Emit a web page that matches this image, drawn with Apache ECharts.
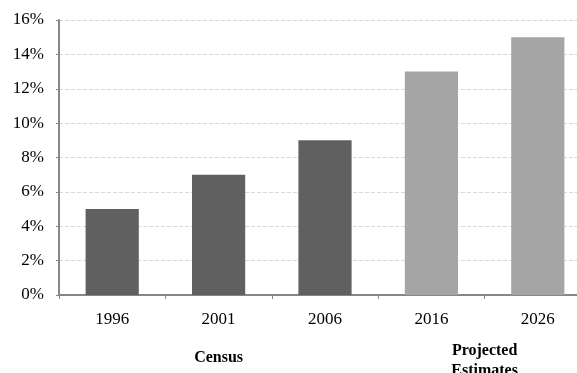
<!DOCTYPE html>
<html>
<head>
<meta charset="utf-8">
<script src="https://cdn.jsdelivr.net/npm/echarts@6/dist/echarts.min.js"></script>
<style>
  html, body { margin: 0; padding: 0; background: #ffffff; overflow: hidden; }
  #frame { width: 577px; height: 373px; overflow: hidden; }
  /* the plot runs a little past the right edge of the frame */
  #chart { width: 591px; height: 373px; }
</style>
</head>
<body>
<div id="frame"><div id="chart"></div></div>
<script>
// Share by year: census counts and projected estimates
const years = ['1996', '2001', '2006', '2016', '2026'];
const shares = [5, 7, 9, 13, 15];
const projected = [false, false, false, true, true];
const yTicks = [0, 2, 4, 6, 8, 10, 12, 14, 16];

// Group captions under the year labels: [text, first index, last index]
const groups = [
  ['Census', 0, 2],
  ['Projected\nEstimates', 3, 4]
];

const censusColor = '#606060';
const projectedColor = '#a5a5a5';
const serif = '"Liberation Serif", "Times New Roman", serif';

const chart = echarts.init(document.getElementById('chart'), null, { renderer: 'canvas' });

const option = {
  animation: false,
  backgroundColor: '#ffffff',
  grid: { left: 59, right: 0, top: 20, bottom: 78, containLabel: false },
  xAxis: {
    type: 'category',
    data: years,
    boundaryGap: true,
    axisLine: { lineStyle: { color: '#868686', width: 2 } },
    axisTick: { show: true, length: 4, lineStyle: { color: '#868686', width: 1 } },
    axisLabel: { color: '#000000', fontFamily: serif, fontSize: 17, margin: 16 },
    splitLine: { show: false }
  },
  yAxis: {
    type: 'value',
    min: yTicks[0],
    max: yTicks[yTicks.length - 1],
    interval: yTicks[1] - yTicks[0],
    axisLine: { show: true, lineStyle: { color: '#868686', width: 2 } },
    axisTick: { show: true, length: 3, lineStyle: { color: '#868686', width: 1 } },
    axisLabel: {
      color: '#000000', fontFamily: serif, fontSize: 17, margin: 15,
      formatter: v => v + '%'
    },
    splitLine: { show: true, lineStyle: { color: '#d9d9d9', type: 'dashed', width: 1 } }
  },
  series: [{
    type: 'bar',
    barWidth: '50%',
    data: shares.map((v, i) => ({
      value: v,
      itemStyle: { color: projected[i] ? projectedColor : censusColor }
    }))
  }]
};

chart.setOption(option);

// Place group captions centred under their span of categories;
// taller (two-line) captions sit a little lower
const captionGraphics = groups.map(([text, a, b]) => {
  const xa = chart.convertToPixel({ xAxisIndex: 0 }, years[a]);
  const xb = chart.convertToPixel({ xAxisIndex: 0 }, years[b]);
  const lines = text.split('\n').length;
  return {
    type: 'text',
    x: (xa + xb) / 2,
    y: 357.5 + (lines - 1) * 3.5,
    style: {
      text: text,
      fill: '#000000',
      font: 'bold 16px ' + serif,
      textAlign: 'center',
      textVerticalAlign: 'middle',
      lineHeight: 20.5
    }
  };
});
chart.setOption({ graphic: captionGraphics });
</script>
</body>
</html>
